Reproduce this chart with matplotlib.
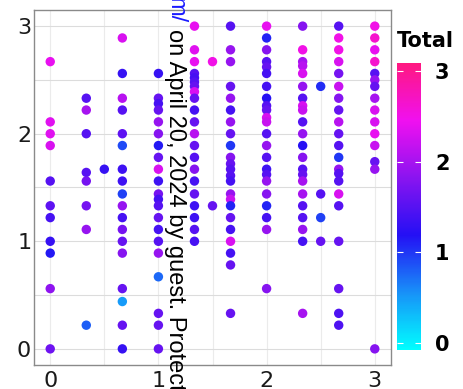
import numpy as np
import matplotlib
matplotlib.use("Agg")
import matplotlib.pyplot as plt
from matplotlib.colors import LinearSegmentedColormap, Normalize
from matplotlib.cm import ScalarMappable

plt.rcParams['font.family'] = ['DejaVu Sans']

# ---- data: per x column, y values and "Total" colour values ----
col_x = [0, 1/3, 0.5, 2/3, 1, 4/3, 1.5, 5/3, 2, 7/3, 2.5, 8/3, 3]

y_c0 = [2.67, 2.11, 2.0, 1.89, 1.56, 1.33, 1.22, 1.0, 0.89, 0.56, 0.0]
t_c0 = [2.4, 2.35, 2.35, 2.3, 1.5, 1.55, 1.4, 1.3, 1.15, 1.85, 1.65]

y_c1 = [2.33, 2.22, 2.0, 1.64, 1.56, 1.33, 1.11, 0.22]
t_c1 = [1.5, 2.0, 1.5, 1.5, 1.7, 1.7, 1.9, 0.8]

y_c2 = [1.67]
t_c2 = [1.3]

y_c3 = [2.89, 2.56, 2.33, 2.22, 2.0, 1.89, 1.67, 1.56, 1.44, 1.33, 1.22, 1.11, 1.0, 0.89, 0.56, 0.44, 0.22, 0.0]
t_c3 = [2.3, 1.3, 2.1, 1.5, 1.55, 0.9, 1.35, 1.35, 0.95, 1.9, 1.4, 1.7, 1.6, 1.8, 1.6, 0.5, 1.6, 1.3]

y_c4 = [2.56, 2.33, 2.28, 2.22, 2.11, 2.0, 1.89, 1.78, 1.67, 1.56, 1.44, 1.39, 1.33, 1.22, 1.11, 1.0, 0.89, 0.67, 0.33, 0.22, 0.0]
t_c4 = [1.3, 1.6, 1.4, 1.6, 1.9, 1.8, 1.15, 1.6, 2.3, 1.35, 1.7, 1.4, 1.5, 1.6, 1.4, 1.5, 1.9, 0.75, 1.6, 1.6, 1.6]

y_c5 = [3.0, 2.78, 2.67, 2.56, 2.52, 2.48, 2.44, 2.39, 2.33, 2.22, 2.11, 2.0, 1.89, 1.78, 1.67, 1.56, 1.44, 1.33, 1.22, 1.11, 1.0]
t_c5 = [2.4, 2.35, 2.4, 1.5, 1.4, 1.5, 1.6, 2.3, 1.6, 1.4, 1.6, 2.1, 1.6, 1.5, 1.8, 1.4, 1.6, 1.35, 1.35, 1.5, 1.4]

y_c6 = [2.67, 1.33]
t_c6 = [2.5, 1.6]

y_c7 = [3.0, 2.78, 2.67, 2.44, 2.33, 2.22, 2.11, 2.0, 1.89, 1.78, 1.72, 1.67, 1.61, 1.56, 1.44, 1.39, 1.33, 1.22, 1.11, 1.0, 0.89, 0.78, 0.33]
t_c7 = [1.5, 1.9, 1.9, 1.6, 1.9, 1.4, 1.9, 1.6, 1.0, 1.8, 1.6, 1.5, 1.5, 1.4, 1.9, 2.2, 1.1, 1.6, 1.4, 2.3, 1.4, 1.6, 1.6]

y_c8 = [3.0, 2.89, 2.78, 2.67, 2.62, 2.56, 2.44, 2.33, 2.26, 2.22, 2.15, 2.11, 2.0, 1.89, 1.78, 1.67, 1.62, 1.56, 1.44, 1.33, 1.22, 1.11, 0.56]
t_c8 = [2.4, 1.1, 1.8, 1.5, 1.6, 1.4, 1.4, 1.2, 1.5, 1.6, 2.3, 2.2, 1.5, 1.9, 1.5, 1.35, 1.5, 1.9, 1.8, 1.1, 1.4, 1.9, 1.8]

y_c9 = [3.0, 2.78, 2.67, 2.63, 2.56, 2.44, 2.33, 2.26, 2.22, 2.11, 2.0, 1.89, 1.78, 1.67, 1.62, 1.56, 1.44, 1.33, 1.22, 1.11, 1.0, 0.33]
t_c9 = [1.8, 2.5, 2.0, 2.1, 2.3, 1.9, 1.5, 2.3, 2.2, 1.5, 1.9, 1.2, 1.8, 1.5, 1.6, 2.0, 2.0, 1.5, 1.5, 1.9, 1.4, 2.0]

y_c10 = [2.44, 1.44, 1.22, 1.0]
t_c10 = [1.05, 1.5, 0.95, 1.6]

y_c11 = [3.0, 2.89, 2.78, 2.67, 2.56, 2.44, 2.33, 2.22, 2.11, 2.0, 1.89, 1.78, 1.67, 1.63, 1.56, 1.44, 1.33, 1.0, 0.56, 0.33, 0.22]
t_c11 = [1.5, 2.5, 2.5, 2.3, 1.7, 2.2, 1.8, 1.6, 2.1, 1.6, 1.5, 1.0, 1.9, 1.5, 1.5, 2.3, 1.5, 1.6, 1.6, 1.45, 1.45]

y_c12 = [3.0, 2.89, 2.78, 2.67, 2.56, 2.5, 2.44, 2.33, 2.22, 2.11, 2.0, 1.89, 1.74, 1.67, 0.0]
t_c12 = [2.5, 2.65, 2.4, 2.65, 1.5, 1.9, 1.6, 2.0, 2.3, 2.3, 2.4, 2.2, 1.6, 1.9, 1.8]

ys = [y_c0, y_c1, y_c2, y_c3, y_c4, y_c5, y_c6, y_c7, y_c8, y_c9, y_c10, y_c11, y_c12]
ts = [t_c0, t_c1, t_c2, t_c3, t_c4, t_c5, t_c6, t_c7, t_c8, t_c9, t_c10, t_c11, t_c12]

x_ticks = [0, 1, 2, 3]
cbar_ticks = [0, 1, 2, 3]

x_all, y_all, t_all = [], [], []
for cx, yl, tl in zip(col_x, ys, ts):
    x_all += [cx] * len(yl)
    y_all += yl
    t_all += tl

cmap = LinearSegmentedColormap.from_list(
    "total", [(0.0, '#00ffff'), (0.2, '#1890f8'), (0.4, '#2410f4'),
              (0.6, '#8a14f0'), (0.8, '#f010f0'), (1.0, '#ff1880')])
norm = Normalize(vmin=-0.08, vmax=3.09)

W, H = 463, 389
fig = plt.figure(figsize=(W / 100, H / 100), dpi=100)
ax = fig.add_axes([34 / W, 1 - 365 / H, (391 - 34) / W, (365 - 10) / H])

ax.scatter(x_all, y_all, c=t_all, cmap=cmap, norm=norm, s=46, linewidths=0, zorder=3)

ax.set_xlim(-0.15, 3.15)
ax.set_ylim(-0.15, 3.15)
ax.set_xticks(x_ticks)
ax.set_yticks(x_ticks)
ax.set_xticks([0.5, 1.5, 2.5], minor=True)
ax.set_yticks([0.5, 1.5, 2.5], minor=True)
ax.grid(True, axis='y', which='both', color='#dcdcdc', lw=0.8, zorder=0)
ax.grid(True, axis='x', which='both', color='#ebebeb', lw=0.8, zorder=0)
ax.tick_params(which='both', length=0, labelsize=16, labelcolor='#1a1a1a', pad=2)
ax.tick_params(axis='x', pad=4)
for sp in ax.spines.values():
    sp.set_color('#8a8a8a')
    sp.set_linewidth(1.0)
ax.set_axisbelow(True)

# colorbar
cax = fig.add_axes([397 / W, 1 - 350 / H, 24 / W, 287 / H])
sm = ScalarMappable(norm=norm, cmap=cmap)
cb = fig.colorbar(sm, cax=cax, ticks=cbar_ticks)
cb.outline.set_visible(False)
cax.tick_params(direction='in', length=4, color='white', width=0.8,
                left=True, right=True, labelsize=15, pad=10)
for lab in cax.get_yticklabels():
    lab.set_fontweight('bold')
fig.text(397 / W, 1 - 47 / H, 'Total', fontsize=15, fontweight='bold',
         ha='left', va='baseline')

# vertical watermark text
fig.text(175 / W, 1 - 23 / H, 'm/', rotation=-90, color='#1a1aff',
         family='Liberation Sans', fontsize=17, ha='center', va='bottom', zorder=10)
fig.text(175 / W, 1 - 29 / H, 'on April 20, 2024 by guest. Protected by copyright.',
         rotation=-90, color='black', family='Liberation Sans', fontsize=17,
         ha='center', va='top', zorder=10)

fig.savefig('out.png', dpi=100)
